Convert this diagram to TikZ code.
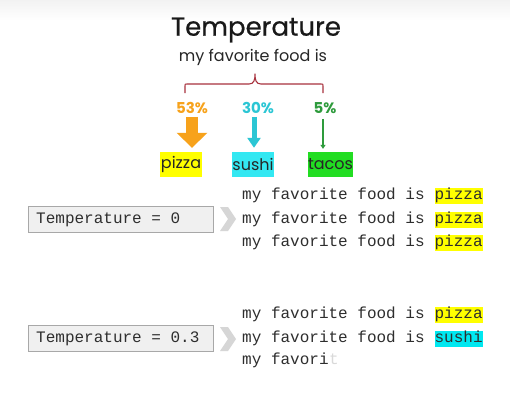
\documentclass[tikz,border=0pt]{standalone}
\usepackage{fontspec}
\setmainfont{Poppins}
\newfontfamily\mono{Liberation Mono}
\newfontfamily\titlefont[FakeBold=0.6]{Poppins}
\usetikzlibrary{arrows.meta}
\definecolor{pcorange}{HTML}{F7A21B}
\definecolor{pccyan}{HTML}{2BC6D4}
\definecolor{pcgreen}{HTML}{2E9B3C}
\definecolor{bracered}{HTML}{A8323E}
\definecolor{hlyellow}{HTML}{FFFF00}
\definecolor{hlcyan}{HTML}{33E8F2}
\definecolor{hlgreen}{HTML}{22DD22}
\definecolor{hlcyanB}{HTML}{00E8F0}
\definecolor{codegray}{HTML}{2E2E2E}
\definecolor{boxfill}{HTML}{F0F0F0}
\definecolor{boxline}{HTML}{A8A8A8}
\definecolor{chevron}{HTML}{D6D6D6}
\tikzset{
  pct/.style={font=\fontsize{15}{17}\selectfont\bfseries, inner sep=2pt},
  foodlabel/.style={font=\fontsize{16}{19}\selectfont, inner xsep=0.5pt, inner ysep=0pt,
    minimum height=25pt, text=black!85},
  codeline/.style={font=\mono\fontsize{16}{18}\selectfont, text=codegray, inner sep=0pt,
    anchor=base west, text height=11pt, text depth=4pt},
  hl/.style={codeline, anchor=base west, inner ysep=0.5pt},
  tempbox/.style={draw=boxline, fill=boxfill, line width=0.8pt, minimum width=185pt,
    minimum height=26pt, inner sep=0pt},
  tempval/.style={font=\mono\fontsize{16}{18}\selectfont, text=codegray, inner sep=0pt, anchor=west},
  chev/.style={fill=chevron, draw=none},
}
\begin{document}
\begin{tikzpicture}[x=1pt,y=-1pt]
\useasboundingbox (0,0) rectangle (510,402);
\fill[white] (0,0) rectangle (510,402);
\shade[top color=black!5, bottom color=white] (0,0) rectangle (510,20);

% heading
\node[font=\titlefont\fontsize{26}{29}\selectfont, text=black!90] (title) at (256,30) {Temperature};
\node[font=\fontsize{16}{19}\selectfont, text=black!85] (prompt) at (253,57) {my favorite food is};

% bracket over the three candidates
\draw[bracered, line width=1.1pt, line join=round]
  (185,93) -- (185,86) .. controls (185,84) .. (187,84) -- (249,84)
  .. controls (254,84) and (255,80) .. (255,74)
  .. controls (255,80) and (256,84) .. (261,84) -- (321,84)
  .. controls (323,84) .. (323,86) -- (323,93);

% probabilities
\node[pct, text=pcorange] (p53) at (192,108) {53\%};
\node[pct, text=pccyan] (p30) at (258,108) {30\%};
\node[pct, text=pcgreen] (p5) at (325,108) {5\%};

% candidate tokens
\node[foodlabel, fill=hlyellow] (pizza) at (181,164.5) {pizza};
\node[foodlabel, fill=hlcyan] (sushi) at (253,164.5) {sushi};
\node[foodlabel, fill=hlgreen] (tacos) at (330.5,164.5) {tacos};

% arrows sized by probability
\draw[pcorange, line width=12pt, -{Triangle[width=30pt,length=15pt]}, shorten >=4pt, shorten <=1pt]
  (p53.south) -- (pizza.north -| p53.south);
\draw[pccyan, line width=5pt, -{Triangle[width=13pt,length=10pt]}, shorten >=4pt, shorten <=1pt]
  (p30.south -| 254,0) -- (sushi.north -| 254,0);
\draw[pcgreen, line width=1.8pt, -{Triangle[width=5pt,length=4pt]}, shorten >=3pt, shorten <=3pt]
  (p5.south -| 323,0) -- (tacos.north -| 323,0);

% temperature = 0
\node[tempbox] (t0) at (120.5,219) {};
\node[tempval] (t0txt) at (36,219.5) {Temperature = 0};
\fill[chev] (220,207) -- (228,207) -- (236,219) -- (228,231) -- (220,231) -- (228,219) -- cycle;
\node[codeline] (a1) at (242,199) {my favorite food is\ \null};
\node[hl, fill=hlyellow] (a1w) at (a1.base east) {pizza};
\node[codeline] (a2) at (242,223) {my favorite food is\ \null};
\node[hl, fill=hlyellow] (a2w) at (a2.base east) {pizza};
\node[codeline] (a3) at (242,246) {my favorite food is\ \null};
\node[hl, fill=hlyellow] (a3w) at (a3.base east) {pizza};

% temperature = 0.3
\node[tempbox] (t3) at (120.5,338.5) {};
\node[tempval] (t3txt) at (36,339) {Temperature = 0.3};
\fill[chev] (220,327) -- (228,327) -- (236,339) -- (228,351) -- (220,351) -- (228,339) -- cycle;
\node[codeline] (b1) at (242,318) {my favorite food is\ \null};
\node[hl, fill=hlyellow] (b1w) at (b1.base east) {pizza};
\node[codeline] (b2) at (242,342) {my favorite food is\ \null};
\node[hl, fill=hlcyanB] (b2w) at (b2.base east) {sushi};
\node[codeline] (b3) at (242,364) {my favori};
\node[codeline, text=black!15] (b3t) at (b3.base east) {t};
\end{tikzpicture}
\end{document}
